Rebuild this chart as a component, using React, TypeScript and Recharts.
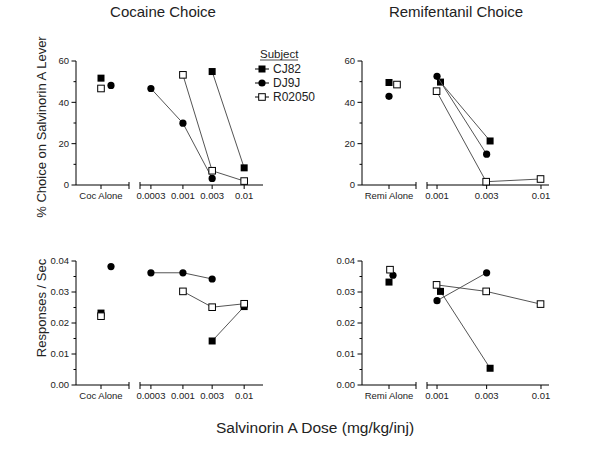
import React from 'react';
import { ScatterChart, Scatter, XAxis, YAxis } from 'recharts';

const SUBJECTS = ['CJ82', 'DJ9J', 'R02050'];

const COC_DOSES = [0.0003, 0.001, 0.003, 0.01];
const REMI_DOSES = [0.001, 0.003, 0.01];

// "alone" values in subject order: CJ82, DJ9J, R02050
const cocChoiceAlone = [51.7, 48.2, 46.7];
const cocChoiceCJ82 = [null, null, 54.9, 8.3];
const cocChoiceDJ9J = [46.7, 29.9, 3.2, null];
const cocChoiceR02050 = [null, 53.3, 6.9, 1.9];

const remiChoiceAlone = [49.6, 42.9, 48.6];
const remiChoiceCJ82 = [49.8, 21.3, null];
const remiChoiceDJ9J = [52.6, 14.9, null];
const remiChoiceR02050 = [45.4, 1.6, 2.9];

const cocRateAlone = [0.0232, 0.0382, 0.0222];
const cocRateCJ82 = [null, null, 0.0142, 0.0253];
const cocRateDJ9J = [0.0362, 0.0362, 0.0342, null];
const cocRateR02050 = [null, 0.0302, 0.0251, 0.0262];

const remiRateAlone = [0.0332, 0.0354, 0.0372];
const remiRateCJ82 = [0.0302, 0.0054, null];
const remiRateDJ9J = [0.0272, 0.0362, null];
const remiRateR02050 = [0.0323, 0.0302, 0.0261];

const CHOICE_TICKS = [0, 10, 20, 30, 40, 50, 60];
const CHOICE_LABELS = [0, 20, 40, 60];
const RATE_TICKS = [0, 0.005, 0.01, 0.015, 0.02, 0.025, 0.03, 0.035, 0.04];
const RATE_LABELS = [0, 0.01, 0.02, 0.03, 0.04];

const FONT = '"Liberation Sans", Arial, sans-serif';
const LINE = '#555';
const PLOT_H = 124;
const M_TOP = 10;
const X_H = 30;
const Y_W = 56;
const PAD = 22;

type Pt = { x: number; y: number };

function Marker({ cx, cy, s }: { cx: number; cy: number; s: string }) {
  if (s === 'CJ82') return <rect x={cx - 3.5} y={cy - 3.5} width={7} height={7} fill="#000" />;
  if (s === 'DJ9J') return <circle cx={cx} cy={cy} r={3.6} fill="#000" />;
  return <rect x={cx - 3.3} y={cy - 3.3} width={6.6} height={6.6} fill="#fff" stroke="#000" strokeWidth={1} />;
}

const near = (a: number, b: number) => Math.abs(a - b) < Math.abs(b) * 1e-6 + 1e-9;

function XTick(props: any) {
  const { x, y, payload, breakAt, fmt } = props;
  const v = payload.value;
  if (near(v, breakAt)) {
    return <line x1={x} x2={x} y1={y - 3} y2={y + 4} stroke="#000" strokeWidth={1} />;
  }
  return (
    <g>
      <line x1={x} x2={x} y1={y} y2={y + 4} stroke="#000" strokeWidth={1} />
      <text x={x} y={y + 14} textAnchor="middle" fontSize={9.5} fontFamily={FONT} fill="#222">
        {fmt(v)}
      </text>
    </g>
  );
}

function YTick(props: any) {
  const { x, y, payload, labels, fmt } = props;
  const v = payload.value;
  const major = labels.some((l: number) => near(v, l) || (l === 0 && v === 0));
  return (
    <g>
      <line x1={x - (major ? 4.5 : 2.5)} x2={x} y1={y} y2={y} stroke="#000" strokeWidth={1} />
      {major && (
        <text x={x - 7} y={y} dy="0.35em" textAnchor="end" fontSize={9.5} fontFamily={FONT} fill="#222">
          {fmt(v)}
        </text>
      )}
    </g>
  );
}

interface PanelProps {
  axisX: number;
  plotTop: number;
  aloneX: number;
  segEnd: number;
  doseStart: number;
  doseEnd: number;
  doseDomain: [number, number];
  aloneLabel: string;
  aloneShift: number[];
  doseShift: number[];
  doses: number[];
  alone: number[];
  series: (number | null)[][];
  yDomain: [number, number];
  yTicks: number[];
  yLabels: number[];
  yFmt: (v: number) => string;
}

function Panel(p: PanelProps) {
  const leftX = p.axisX - Y_W;
  const h = M_TOP + PLOT_H + X_H;
  const aloneDomain: [number, number] = [p.axisX - p.aloneX, p.segEnd - p.aloneX];
  const doseFmt = (v: number) => String(v);

  return (
    <>
      <div style={{ position: 'absolute', left: leftX, top: p.plotTop - M_TOP }}>
        <ScatterChart width={p.segEnd - leftX + 10} height={h} margin={{ top: M_TOP, right: 10, left: 0, bottom: 0 }}>
          <XAxis
            type="number"
            dataKey="x"
            domain={aloneDomain}
            ticks={[0, aloneDomain[1]]}
            interval={0}
            height={X_H}
            tickLine={false}
            tickSize={0}
            tickMargin={0}
            axisLine={{ stroke: '#000' }}
            tick={(t: any) => <XTick {...t} breakAt={aloneDomain[1]} fmt={() => p.aloneLabel} />}
          />
          <YAxis
            type="number"
            dataKey="y"
            domain={p.yDomain}
            ticks={p.yTicks}
            interval={0}
            width={Y_W}
            tickLine={false}
            tickSize={0}
            tickMargin={0}
            axisLine={{ stroke: '#000' }}
            tick={(t: any) => <YTick {...t} labels={p.yLabels} fmt={p.yFmt} />}
          />
          {SUBJECTS.map((s, i) => (
            <Scatter
              key={s}
              data={[{ x: p.aloneShift[i], y: p.alone[i] }]}
              isAnimationActive={false}
              shape={(d: any) => <Marker cx={d.cx} cy={d.cy} s={s} />}
            />
          ))}
        </ScatterChart>
      </div>
      <div style={{ position: 'absolute', left: p.doseStart - PAD, top: p.plotTop - M_TOP }}>
        <ScatterChart
          width={p.doseEnd - p.doseStart + 2 * PAD}
          height={h}
          margin={{ top: M_TOP, right: PAD, left: PAD, bottom: 0 }}
        >
          <XAxis
            type="number"
            dataKey="x"
            scale="log"
            domain={p.doseDomain}
            ticks={[p.doseDomain[0], ...p.doses]}
            interval={0}
            height={X_H}
            tickLine={false}
            tickSize={0}
            tickMargin={0}
            axisLine={{ stroke: '#000' }}
            tick={(t: any) => <XTick {...t} breakAt={p.doseDomain[0]} fmt={doseFmt} />}
          />
          <YAxis hide type="number" dataKey="y" domain={p.yDomain} />
          {SUBJECTS.map((s, i) => {
            const pts: Pt[] = [];
            p.series[i].forEach((v, j) => {
              if (v != null) pts.push({ x: p.doses[j] * p.doseShift[i], y: v });
            });
            return (
              <Scatter
                key={s}
                data={pts}
                line={{ stroke: LINE, strokeWidth: 1 }}
                lineType="joint"
                isAnimationActive={false}
                shape={(d: any) => <Marker cx={d.cx} cy={d.cy} s={s} />}
              />
            );
          })}
        </ScatterChart>
      </div>
    </>
  );
}

const COC_LAYOUT = {
  axisX: 76,
  aloneX: 101,
  segEnd: 129,
  doseStart: 140,
  doseEnd: 263,
  doseDomain: [0.000199, 0.0203] as [number, number],
  aloneLabel: 'Coc Alone',
  aloneShift: [0, 10, 0],
  doseShift: [1, 1, 1],
  doses: COC_DOSES,
};

const REMI_LAYOUT = {
  axisX: 362,
  aloneX: 389,
  segEnd: 416,
  doseStart: 427,
  doseEnd: 549,
  doseDomain: [0.000801, 0.01194] as [number, number],
  aloneLabel: 'Remi Alone',
  doseShift: [1.08, 1, 0.99],
  doses: REMI_DOSES,
};

const choiceAxis = {
  yDomain: [0, 60] as [number, number],
  yTicks: CHOICE_TICKS,
  yLabels: CHOICE_LABELS,
  yFmt: (v: number) => String(v),
};

const rateAxis = {
  yDomain: [0, 0.04] as [number, number],
  yTicks: RATE_TICKS,
  yLabels: RATE_LABELS,
  yFmt: (v: number) => v.toFixed(2),
};

function Legend() {
  const rows = [69, 83, 97];
  return (
    <g fontFamily={FONT} fill="#222">
      <text x={260} y={58} fontSize={11.5}>Subject</text>
      <line x1={260} x2={298} y1={60} y2={60} stroke="#222" strokeWidth={0.8} />
      {SUBJECTS.map((s, i) => (
        <g key={s}>
          <line x1={255} x2={269} y1={rows[i]} y2={rows[i]} stroke="#000" strokeWidth={1} />
          <Marker cx={262} cy={rows[i]} s={s} />
          <text x={273} y={rows[i] + 4.2} fontSize={12}>{s}</text>
        </g>
      ))}
    </g>
  );
}

export default function App() {
  return (
    <div style={{ position: 'absolute', left: 0, top: 0, width: 600, height: 453, background: '#fff', fontFamily: FONT }}>
      <svg width={600} height={453} style={{ position: 'absolute', left: 0, top: 0 }}>
        <g fontFamily={FONT} fill="#222">
          <text x={163} y={17} fontSize={15} textAnchor="middle">Cocaine Choice</text>
          <text x={456} y={17} fontSize={15} textAnchor="middle">Remifentanil Choice</text>
          <text x={315} y={433} fontSize={15.5} textAnchor="middle">Salvinorin A Dose (mg/kg/inj)</text>
          <text x={46} y={127} fontSize={13} textAnchor="middle" transform="rotate(-90 46 127)">
            % Choice on Salvinorin A Lever
          </text>
          <text x={46} y={308} fontSize={13} textAnchor="middle" transform="rotate(-90 46 308)">
            Responses / Sec
          </text>
        </g>
        <Legend />
      </svg>
      <Panel
        {...COC_LAYOUT}
        {...choiceAxis}
        plotTop={61}
        alone={cocChoiceAlone}
        series={[cocChoiceCJ82, cocChoiceDJ9J, cocChoiceR02050]}
      />
      <Panel
        {...REMI_LAYOUT}
        {...choiceAxis}
        plotTop={61}
        aloneShift={[0, 0, 8]}
        alone={remiChoiceAlone}
        series={[remiChoiceCJ82, remiChoiceDJ9J, remiChoiceR02050]}
      />
      <Panel
        {...COC_LAYOUT}
        {...rateAxis}
        plotTop={261}
        alone={cocRateAlone}
        series={[cocRateCJ82, cocRateDJ9J, cocRateR02050]}
      />
      <Panel
        {...REMI_LAYOUT}
        {...rateAxis}
        plotTop={261}
        aloneShift={[0, 4, 1]}
        alone={remiRateAlone}
        series={[remiRateCJ82, remiRateDJ9J, remiRateR02050]}
      />
    </div>
  );
}
